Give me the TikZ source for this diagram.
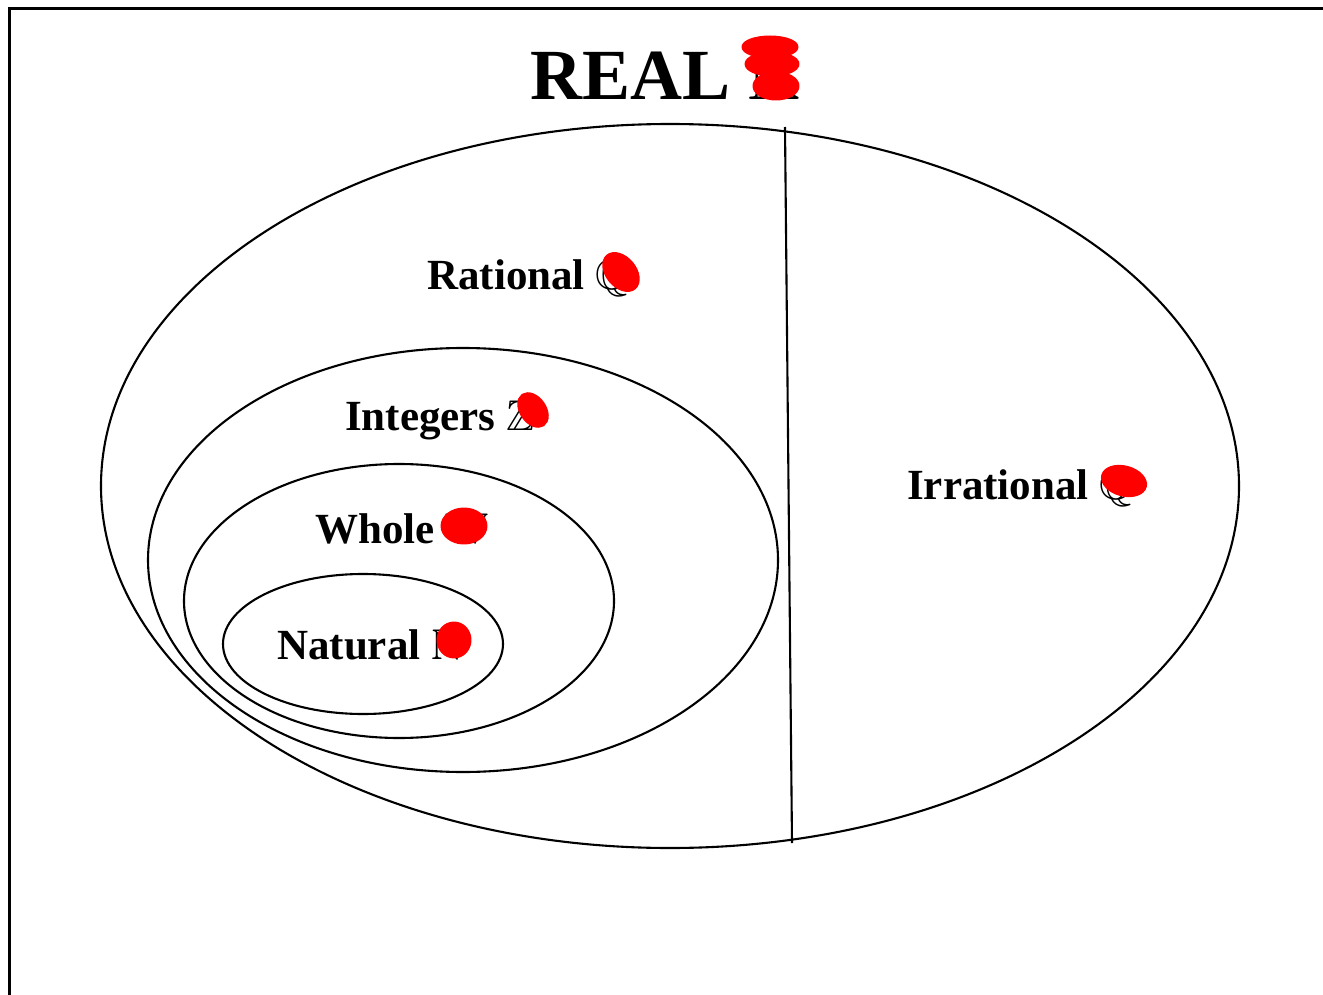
\documentclass[tikz,border=0pt]{standalone}
\usepackage{amssymb}
\usepackage{fontspec}
\setmainfont{Liberation Serif}
\begin{document}
\begin{tikzpicture}[x=1pt,y=-1pt,
  setline/.style={line width=2.1pt,black},
  lab/.style={anchor=base west,inner sep=0pt,font=\bfseries\fontsize{43}{50}\selectfont},
  blot/.style={fill=red,draw=red,line width=3pt,line join=round,line cap=round}]
\useasboundingbox (0,0) rectangle (1323,995);
\fill[white] (0,0) rectangle (1323,995);
% frame
\draw[line width=3pt] (1323,9) -- (9,9) -- (9,995);
% sets
\draw[setline] (670,486) ellipse [x radius=569, y radius=362];
\draw[setline] (463,560) ellipse [x radius=315, y radius=212];
\draw[setline] (399,601) ellipse [x radius=215, y radius=137];
\draw[setline] (363,644) ellipse [x radius=140, y radius=70];
\coordinate (dtop) at (785,127);
\coordinate (dbot) at (792,843);
\draw[setline] (dtop) -- (dbot);
% labels
\node[lab,font=\bfseries\fontsize{72}{80}\selectfont] (real) at (530,100) {REAL $\mathbb{R}$};
\node[lab] (rat) at (427,289) {Rational $\mathbb{Q}$};
\node[lab] (irr) at (907,499) {Irrational $\mathbb{Q}$};
\node[lab] (int) at (345,430) {Integers $\mathbb{Z}$};
\node[lab] (who) at (315,543) {Whole $\mathbb{W}$};
\node[lab] (nat) at (277,659) {Natural $\mathbb{N}$};
% red scribbles
\fill[blot] (770,47) ellipse [x radius=27, y radius=10];
\fill[blot] (772,64) ellipse [x radius=26, y radius=11];
\fill[blot] (776,86) ellipse [x radius=22, y radius=13];
\fill[blot,rotate around={-50:(621,272)}] (621,272) ellipse [x radius=21, y radius=14];
\fill[blot,rotate around={-55:(533,410)}] (533,410) ellipse [x radius=18, y radius=12];
\fill[blot,rotate around={-15:(1124,481)}] (1124,481) ellipse [x radius=22, y radius=14];
\fill[blot] (464,526) ellipse [x radius=22, y radius=17];
\fill[blot] (454,640) ellipse [x radius=16, y radius=17];
\end{tikzpicture}
\end{document}
